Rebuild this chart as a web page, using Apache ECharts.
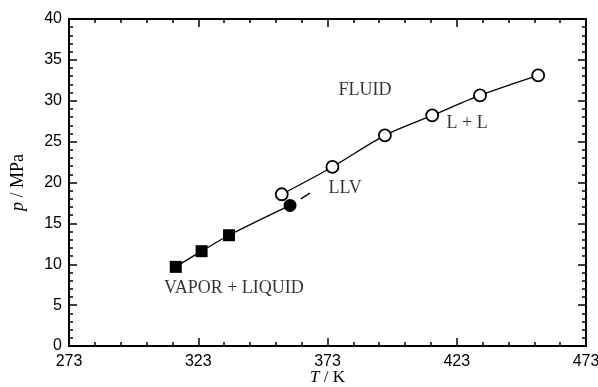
<!DOCTYPE html>
<html>
<head>
<meta charset="utf-8">
<script src="https://cdn.jsdelivr.net/npm/echarts@6/dist/echarts.min.js"></script>
<style>
  html, body { margin: 0; padding: 0; background: #fff; }
  #chart { width: 598px; height: 387px; }
</style>
</head>
<body>
<div id="chart"></div>
<script>
// Vapor + liquid branch (filled squares), T in K, p in MPa
const vlT = [314.3, 324.3, 334.9];
const vlP = [9.68, 11.6, 13.55];
// LLV end point (filled circle)
const llvT = [358.5];
const llvP = [17.2];
// L + L critical branch (open circles)
const llT = [355.3, 374.9, 395.2, 413.5, 432.0, 454.5];
const llP = [18.56, 21.9, 25.76, 28.2, 30.65, 33.1];

// Axis ticks
const xMajor = [273, 323, 373, 423, 473];
const xMinor = [283, 293, 303, 313, 333, 343, 353, 363, 383, 393, 403, 413, 433, 443, 453, 463];

// Region annotations [T, p, text]
const regionLabels = [
  [387.5, 31.3, 'FLUID'],
  [427.0, 27.2, 'L + L'],
  [336.8, 7.1, 'VAPOR + LIQUID'],
  [379.8, 19.3, 'LLV']
];
// Leader dash next to the LLV label
const leaderT = [362.7, 366.2];
const leaderP = [18.0, 18.7];

const pairs = (xs, ys) => xs.map((x, i) => [x, ys[i]]);

const serif = '"Liberation Serif", "Times New Roman", serif';
const sans = '"Liberation Sans", Arial, sans-serif';
const black = '#000';

function xAxisDef(pos, ticks, len, labels) {
  return {
    type: 'value', position: pos, min: 273, max: 473,
    axisLine: { show: true, onZero: false, lineStyle: { color: black, width: 2 } },
    axisTick: { show: true, inside: true, length: len, customValues: ticks,
                lineStyle: { color: black, width: 1.5 } },
    axisLabel: labels ? { show: true, customValues: ticks, color: black,
                          fontFamily: sans, fontSize: 16, margin: 8 } : { show: false },
    splitLine: { show: false }
  };
}

function yAxisDef(pos, labels) {
  return {
    type: 'value', position: pos, min: 0, max: 40, interval: 5,
    axisLine: { show: true, onZero: false, lineStyle: { color: black, width: 2 } },
    axisTick: { show: true, inside: true, length: 8, lineStyle: { color: black, width: 1.5 } },
    minorTick: { show: true, splitNumber: 5, length: 4, lineStyle: { color: black, width: 1.5 } },
    axisLabel: labels ? { show: true, color: black, fontFamily: sans, fontSize: 16, margin: 7 }
                      : { show: false },
    splitLine: { show: false }
  };
}

const xAxes = [
  xAxisDef('bottom', xMajor, 8, true),
  xAxisDef('bottom', xMinor, 4, false),
  xAxisDef('top', xMajor, 8, false),
  xAxisDef('top', xMinor, 4, false)
];
Object.assign(xAxes[0], {
  name: '{i|T} / K', nameLocation: 'middle', nameGap: 23, nameMoveOverlap: false,
  nameTextStyle: { color: black, fontFamily: serif, fontSize: 17,
                   rich: { i: { fontStyle: 'italic', fontFamily: serif, fontSize: 17, color: black } } }
});

const yAxes = [yAxisDef('left', true), yAxisDef('right', false)];
Object.assign(yAxes[0], {
  name: '{i|p} / MPa', nameLocation: 'middle', nameGap: 42, nameMoveOverlap: false,
  nameTextStyle: { color: black, fontFamily: serif, fontSize: 18,
                   rich: { i: { fontStyle: 'italic', fontFamily: serif, fontSize: 18, color: black } } }
});

const chart = echarts.init(document.getElementById('chart'), null, { renderer: 'canvas' });
chart.setOption({
  animation: false,
  backgroundColor: '#fff',
  grid: { left: 69, right: 12, top: 19, bottom: 41, containLabel: false, outerBoundsMode: 'none' },
  xAxis: xAxes,
  yAxis: yAxes,
  series: [
    {
      type: 'line', smooth: 0.3,
      data: pairs(vlT.concat(llvT), vlP.concat(llvP)),
      showSymbol: false, symbol: 'none',
      lineStyle: { color: black, width: 1.3 }, z: 2
    },
    {
      type: 'line', smooth: 0.3,
      data: pairs(llT, llP),
      symbol: 'circle', symbolSize: 12, showAllSymbol: true,
      itemStyle: { color: '#fff', borderColor: black, borderWidth: 1.8, opacity: 1 },
      lineStyle: { color: black, width: 1.3 }, z: 3
    },
    {
      type: 'scatter', data: pairs(vlT, vlP),
      symbol: 'rect', symbolSize: 12,
      itemStyle: { color: black, opacity: 1 }, z: 4
    },
    {
      type: 'scatter', data: pairs(llvT, llvP),
      symbol: 'circle', symbolSize: 13,
      itemStyle: { color: black, opacity: 1 }, z: 4
    },
    {
      type: 'line', data: pairs(leaderT, leaderP),
      symbol: 'none', lineStyle: { color: black, width: 1.3 }, z: 2
    },
    {
      type: 'scatter', symbolSize: 0, silent: true,
      data: regionLabels.map(d => ({ value: [d[0], d[1]], name: d[2] })),
      label: { show: true, position: 'inside', formatter: p => p.name,
               color: black, fontFamily: serif, fontSize: 18 },
      z: 5
    }
  ]
});
</script>
</body>
</html>
